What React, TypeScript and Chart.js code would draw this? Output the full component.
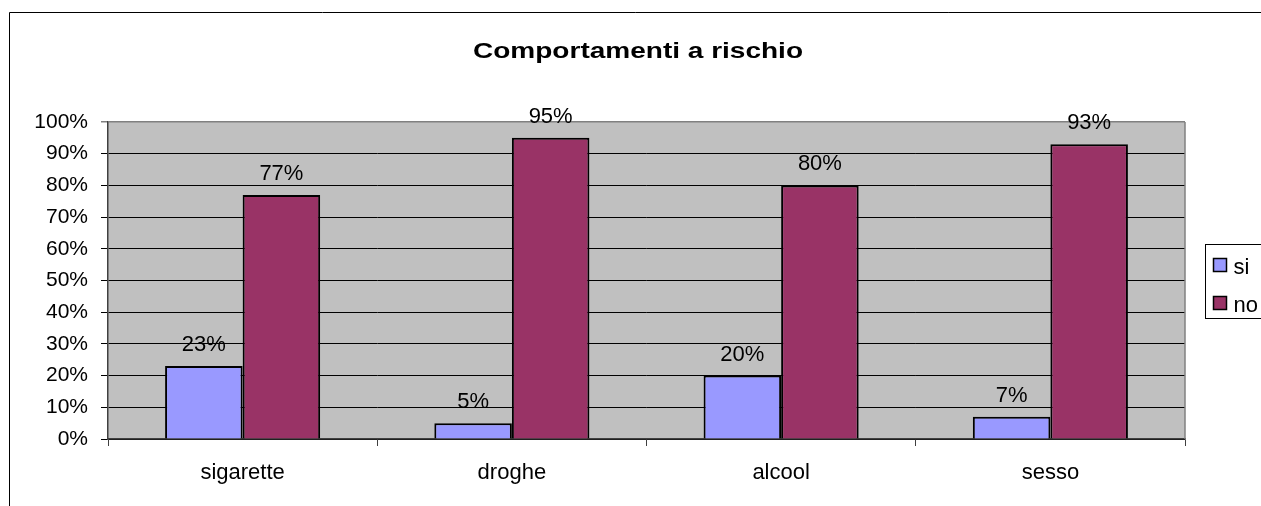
import React, { useEffect, useRef } from 'react';
import { Chart, registerables } from 'chart.js';

Chart.register(...registerables);

const chartTitle = 'Comportamenti a rischio';
const categories = ['sigarette', 'droghe', 'alcool', 'sesso'];
const seriesNames = ['si', 'no'];
const siValues = [23, 5, 20, 7];
const noValues = [77, 95, 80, 93];
const yMin = 0;
const yMax = 100;
const yStep = 10;

const FONT = "'Liberation Sans', Arial, sans-serif";
const SI_COLOR = '#9999FF';
const NO_COLOR = '#993366';
const TITLE_WIDTH = 330;

const decorPlugin = {
  id: 'decor',
  beforeDraw(chart: any) {
    const { ctx, chartArea: a, width, height } = chart;
    ctx.save();
    ctx.fillStyle = '#FFFFFF';
    ctx.fillRect(0, 0, width, height);
    // outer frame
    ctx.strokeStyle = '#000000';
    ctx.lineWidth = 1;
    ctx.beginPath();
    ctx.moveTo(9.5, height);
    ctx.lineTo(9.5, 12.5);
    ctx.lineTo(width, 12.5);
    ctx.stroke();
    // plot background
    ctx.fillStyle = '#C0C0C0';
    ctx.fillRect(a.left, a.top, a.right - a.left, a.bottom - a.top);
    ctx.restore();
  },
  afterDatasetsDraw(chart: any) {
    const { ctx, chartArea: a } = chart;
    ctx.save();
    // right border of plot area
    ctx.strokeStyle = '#808080';
    ctx.lineWidth = 1.5;
    ctx.beginPath();
    ctx.moveTo(a.right, a.top);
    ctx.lineTo(a.right, a.bottom);
    ctx.stroke();
    // data labels
    ctx.fillStyle = '#000000';
    ctx.font = `22px ${FONT}`;
    ctx.textAlign = 'center';
    ctx.textBaseline = 'alphabetic';
    chart.data.datasets.forEach((ds: any, di: number) => {
      const meta = chart.getDatasetMeta(di);
      meta.data.forEach((bar: any, i: number) => {
        ctx.fillText(`${ds.data[i]}%`, bar.x, bar.y - 15);
      });
    });
    ctx.restore();
  },
  afterDraw(chart: any) {
    const { ctx, chartArea: a } = chart;
    ctx.save();
    // title (horizontally stretched, as in the reference)
    ctx.font = `bold 22px ${FONT}`;
    ctx.fillStyle = '#000000';
    ctx.textAlign = 'center';
    ctx.textBaseline = 'alphabetic';
    const w = ctx.measureText(chartTitle).width || TITLE_WIDTH;
    ctx.translate(638, 58);
    ctx.scale(TITLE_WIDTH / w, 1);
    ctx.fillText(chartTitle, 0, 0);
    ctx.restore();

    // legend
    ctx.save();
    const boxLeft = a.right + 20.5;
    const boxH = 74;
    const boxTop = Math.round((a.top + a.bottom) / 2 - boxH / 2) + 0.5;
    ctx.strokeStyle = '#000000';
    ctx.lineWidth = 1;
    ctx.fillStyle = '#FFFFFF';
    ctx.fillRect(boxLeft, boxTop, 200, boxH);
    ctx.strokeRect(boxLeft, boxTop, 200, boxH);
    ctx.font = `22px ${FONT}`;
    ctx.textAlign = 'left';
    ctx.textBaseline = 'alphabetic';
    chart.data.datasets.forEach((ds: any, di: number) => {
      const rowMid = boxTop + 20 + di * 38;
      ctx.fillStyle = ds.backgroundColor;
      ctx.fillRect(boxLeft + 8, rowMid - 6, 13, 13);
      ctx.strokeStyle = '#000000';
      ctx.lineWidth = 1.5;
      ctx.strokeRect(boxLeft + 8, rowMid - 6, 13, 13);
      ctx.fillStyle = '#000000';
      ctx.fillText(ds.label, boxLeft + 28, rowMid + 9);
    });
    ctx.restore();
  },
};

export default function App() {
  const ref = useRef<HTMLCanvasElement>(null);
  useEffect(() => {
    if (!ref.current) return;
    const chart = new Chart(ref.current, {
      type: 'bar',
      data: {
        labels: categories,
        datasets: [
          {
            label: seriesNames[0],
            data: siValues,
            backgroundColor: SI_COLOR,
            borderColor: '#000000',
            borderWidth: 2,
            categoryPercentage: 0.576,
            barPercentage: 1,
          },
          {
            label: seriesNames[1],
            data: noValues,
            backgroundColor: NO_COLOR,
            borderColor: '#000000',
            borderWidth: 2,
            categoryPercentage: 0.576,
            barPercentage: 1,
          },
        ],
      },
      options: {
        responsive: false,
        animation: false,
        devicePixelRatio: 1,
        layout: { padding: { top: 122, right: 76, bottom: 0, left: 0 } },
        plugins: {
          legend: { display: false },
          title: { display: false },
          tooltip: { enabled: false },
        },
        scales: {
          x: {
            offset: true,
            grid: {
              offset: true,
              drawOnChartArea: false,
              drawTicks: true,
              tickLength: 7,
              color: '#404040',
              lineWidth: 1,
            },
            border: { display: true, color: '#404040', width: 1.5 },
            ticks: {
              color: '#000000',
              font: { family: FONT, size: 22 },
              padding: 14,
            },
            afterFit: (scale: any) => {
              scale.height = 67;
            },
          },
          y: {
            min: yMin,
            max: yMax,
            ticks: {
              stepSize: yStep,
              color: '#000000',
              font: { family: FONT, size: 21 },
              padding: 13,
              callback: (v: any) => `${v}%`,
            },
            grid: {
              color: (c: any) => (c.tick && c.tick.value === yMax ? '#808080' : '#000000'),
              lineWidth: (c: any) => (c.tick && c.tick.value === yMax ? 1.5 : 1),
              tickLength: 7,
              drawTicks: true,
            },
            border: { display: true, color: '#404040', width: 1.5 },
            afterFit: (scale: any) => {
              scale.width = 108;
            },
          },
        },
      },
      plugins: [decorPlugin],
    });
    return () => chart.destroy();
  }, []);

  return (
    <div style={{ position: 'absolute', left: 0, top: 0, width: 1261, height: 506 }}>
      <canvas ref={ref} width={1261} height={506} style={{ display: 'block' }} />
    </div>
  );
}
